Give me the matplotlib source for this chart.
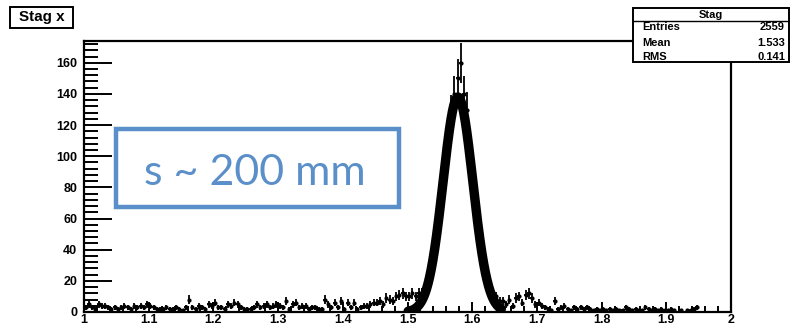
import numpy as np
import matplotlib
matplotlib.use("Agg")
import matplotlib.pyplot as plt
from matplotlib.patches import Rectangle
from matplotlib.ticker import MultipleLocator

# ---- data ----
x_min, x_max, n_bins = 1.0, 2.0, 200
counts = [
    3, 5, 3, 2, 5, 4, 4, 3, 2, 3,
    2, 3, 4, 3, 2, 4, 3, 4, 3, 5,
    4, 3, 2, 2, 2, 3, 2, 2, 3, 2,
    1, 3, 8, 3, 2, 4, 3, 2, 5, 4,
    6, 3, 3, 2, 5, 4, 6, 5, 3, 2,
    2, 2, 3, 5, 3, 4, 5, 3, 4, 5,
    4, 3, 7, 2, 5, 6, 3, 4, 4, 2,
    3, 3, 2, 2, 8, 5, 3, 6, 3, 7,
    2, 6, 3, 6, 2, 3, 4, 4, 5, 6,
    6, 7, 5, 9, 8, 7, 10, 11, 12, 10,
    10, 12, 10, 12, 12, 14, 20, 30, 40, 60,
    68, 92, 115, 128, 140, 150, 160, 140, 130, 100,
    80, 60, 45, 32, 24, 16, 12, 10, 7, 7,
    5, 8, 4, 9, 10, 6, 11, 12, 9, 5,
    6, 4, 3, 2, 1, 7, 2, 3, 4, 2,
    1, 3, 2, 3, 2, 3, 2, 1, 2, 1,
    2, 1, 2, 1, 2, 1, 1, 3, 2, 1,
    2, 1, 1, 3, 2, 1, 2, 1, 2, 1,
    1, 2, 1, 0, 1, 0, 1, 1, 2, 3,
    0, 0, 0, 0, 0, 0, 0, 0, 0, 0,
]
fit_amp, fit_mean, fit_sigma = 138.0, 1.578, 0.023
fit_range = (1.501, 1.645)
title_text = "Stag x"
stats_name = "Stag"
stats_rows = [("Entries", "2559"), ("Mean", "1.533"), ("RMS", "0.141")]
note_text = "s ~ 200 mm"

W, H = 790, 328
fig = plt.figure(figsize=(W / 100, H / 100), dpi=100)
fig.patch.set_facecolor("white")

ax = fig.add_axes([84 / W, 1 - 312 / H, (731 - 84) / W, (312 - 41) / H])
ax.set_xlim(x_min, x_max)
ax.set_ylim(0, 174)

counts_a = np.array(counts, dtype=float)
edges = np.linspace(x_min, x_max, n_bins + 1)
centers = 0.5 * (edges[:-1] + edges[1:])
half_w = 0.5 * (edges[1] - edges[0])
mask = counts_a > 0
ax.errorbar(centers[mask], counts_a[mask], yerr=np.sqrt(counts_a[mask]),
            xerr=half_w, fmt="o", ms=2.0, color="black", ecolor="black",
            elinewidth=1.3, capsize=0, zorder=3)

xf = np.linspace(fit_range[0], fit_range[1], 400)
yf = fit_amp * np.exp(-0.5 * ((xf - fit_mean) / fit_sigma) ** 2)
ax.plot(xf, yf, color="black", lw=6.8, solid_capstyle="round", zorder=4)

for s in ax.spines.values():
    s.set_linewidth(1.6)
    s.set_color("black")

ax.xaxis.set_major_locator(MultipleLocator(0.1))
ax.xaxis.set_minor_locator(MultipleLocator(0.02))
ax.yaxis.set_major_locator(MultipleLocator(20))
ax.yaxis.set_minor_locator(MultipleLocator(4))
ax.tick_params(axis="both", which="both", direction="in", top=False, right=False,
               width=1.4, color="black")
ax.tick_params(axis="y", which="major", length=20, pad=5)
ax.tick_params(axis="y", which="minor", length=10)
ax.tick_params(axis="x", which="major", length=7, pad=1.5)
ax.tick_params(axis="x", which="minor", length=4)
ax.set_xticks(np.round(np.arange(1.0, 2.01, 0.1), 1))
ax.set_xticklabels(["1"] + [f"{v:.1f}" for v in np.arange(1.1, 1.95, 0.1)] + ["2"])
for lab in ax.get_xticklabels() + ax.get_yticklabels():
    lab.set_fontfamily("Liberation Sans")
    lab.set_fontweight("bold")
    lab.set_fontsize(9)

# title box
fig.patches.append(Rectangle((10 / W, 1 - 28 / H), 63 / W, 21 / H, transform=fig.transFigure,
                             facecolor="white", edgecolor="black", lw=1.4, zorder=5))
fig.text(41.5 / W, 1 - 17.5 / H, title_text, ha="center", va="center",
         fontfamily="Liberation Sans", fontweight="bold", fontsize=11, zorder=6)

# stats box
bx0, bx1, by0, by1 = 633, 789, 8, 62
fig.patches.append(Rectangle((bx0 / W, 1 - by1 / H), (bx1 - bx0) / W, (by1 - by0) / H,
                             transform=fig.transFigure, facecolor="white",
                             edgecolor="black", lw=1.4, zorder=5))
fig.add_artist(plt.Line2D([bx0 / W, bx1 / W], [1 - 21 / H, 1 - 21 / H],
                          transform=fig.transFigure, color="black", lw=1.0, zorder=6))
fig.text((bx0 + bx1) / 2 / W, 1 - 14.5 / H, stats_name, ha="center", va="center",
         fontfamily="Liberation Sans", fontweight="bold", fontsize=8, zorder=6)
for i, (k, v) in enumerate(stats_rows):
    yy = 1 - (27.5 + 15 * i) / H
    fig.text(642 / W, yy, k, ha="left", va="center", fontfamily="Liberation Sans",
             fontweight="bold", fontsize=8, zorder=6)
    fig.text(785 / W, yy, v, ha="right", va="center", fontfamily="Liberation Sans",
             fontweight="bold", fontsize=8, zorder=6)

# blue annotation box
blue = "#5B8FC9"
fig.patches.append(Rectangle((116 / W, 1 - 207 / H), (399 - 116) / W, (207 - 129) / H,
                             transform=fig.transFigure, facecolor="white",
                             edgecolor=blue, lw=3.2, zorder=5))
fig.text(255 / W, 1 - 173 / H, note_text, ha="center", va="center", color=blue,
         fontfamily="Lato", fontsize=31, zorder=6)

fig.savefig("out.png", dpi=100)
